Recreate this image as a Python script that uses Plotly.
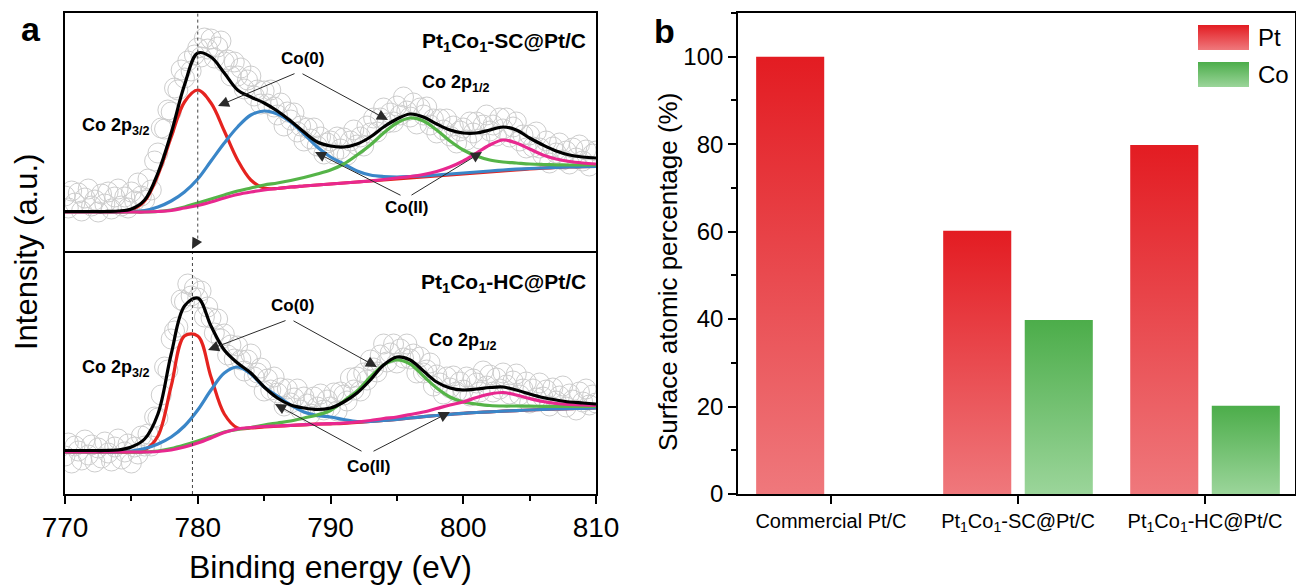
import plotly.graph_objects as go

# ---------------- data : panel a (Co 2p XPS) ----------------
energy_ev = list(range(770, 811))                        # fitted-curve grid (eV)
energy_raw_ev = [770 + 0.25 * k for k in range(161)]      # measured grid (eV)

# Pt1Co1-SC@Pt/C (top)
raw_sc = [57, 45, 62, 50, 60, 42, 55, 64, 47, 53,
          41, 59, 49, 61, 44, 56, 64, 47, 56, 45,
          61, 52, 70, 57, 53, 74, 63, 92, 100, 125,
          124, 143, 141, 165, 163, 183, 175, 192, 182, 198,
          205, 196, 215, 204, 214, 195, 206, 212, 191, 193,
          177, 191, 177, 185, 164, 173, 177, 157, 163, 149,
          162, 149, 163, 146, 138, 150, 127, 141, 133, 140,
          121, 127, 112, 125, 114, 125, 107, 116, 99, 110,
          112, 99, 116, 104, 115, 98, 112, 123, 108, 116,
          107, 127, 120, 135, 121, 135, 145, 130, 140, 131,
          147, 138, 156, 142, 136, 150, 129, 145, 138, 146,
          128, 134, 120, 134, 123, 134, 117, 127, 110, 122,
          125, 113, 131, 120, 131, 114, 128, 138, 122, 128,
          117, 135, 124, 135, 116, 126, 131, 112, 118, 105,
          118, 106, 121, 105, 98, 112, 90, 106, 100, 110,
          93, 102, 89, 105, 95, 108, 92, 103, 87, 99, 102]
fit_sc = [41.5, 41.5, 41.5, 41.5, 42, 44, 53, 80, 120, 168,
          200, 196, 180, 163, 156, 150, 142, 132, 121, 111,
          107, 106, 109, 116, 126, 134, 139, 136, 129, 123,
          120, 120, 123, 126, 123, 115, 108, 102, 98, 96, 95]
co0_p32_sc = [41, 41, 41, 41, 41, 43, 52, 78, 116, 151,
              163, 150, 122, 93, 73, 65, 64.5, 66, 67, 68,
              69, 70, 71, 72, 73, 74, 75, 76, 77, 78,
              79, 80, 81, 82, 83, 84, 84.8, 85.5, 86, 86.3, 86.5]
co2_p32_sc = [41, 41, 41, 41, 41, 41.5, 42.5, 46, 52, 61,
              74, 92, 110, 126, 138, 142, 139, 131, 119, 106,
              96, 89, 82, 78, 76.5, 76, 76.5, 77.2, 78, 79,
              80, 81, 82, 83, 83.8, 84.5, 85, 85.6, 86, 86.3, 86.5]
co0_p12_sc = [41, 41, 41, 41, 41, 41, 41, 41.5, 43, 46,
              50, 54, 58, 62, 65, 68, 70, 72.5, 75.5, 79,
              83, 89, 98, 108, 120, 130, 135, 132, 123, 112,
              103, 97, 93, 91, 90, 89, 88.5, 88.2, 88, 88, 88]
co2_p12_sc = [41, 41, 41, 41, 41, 41, 41, 41.5, 42.5, 45,
              47.5, 51, 55, 58.5, 61, 63, 64.5, 66, 67, 68,
              69, 70, 71, 72, 73.5, 75, 76.5, 78.5, 81.5, 86,
              92, 100, 108, 113, 110, 104, 98, 94, 91.5, 90, 89]

# Pt1Co1-HC@Pt/C (bottom)
raw_hc = [38, 51, 31, 48, 43, 34, 54, 39, 49, 32,
          46, 36, 52, 41, 33, 47, 55, 35, 42, 50,
          31, 47, 40, 58, 48, 60, 48, 77, 76, 99,
          127, 124, 155, 163, 167, 194, 192, 210, 198, 206,
          196, 203, 177, 187, 176, 161, 175, 155, 160, 139,
          149, 135, 148, 134, 123, 134, 140, 117, 121, 126,
          103, 115, 104, 117, 101, 106, 88, 105, 91, 96,
          105, 84, 97, 90, 80, 97, 87, 100, 84, 94,
          87, 101, 83, 102, 99, 93, 116, 104, 117, 103,
          121, 114, 134, 126, 122, 139, 150, 132, 141, 150,
          131, 145, 136, 150, 135, 140, 121, 137, 121, 124,
          131, 108, 119, 111, 100, 117, 106, 118, 102, 112,
          104, 117, 98, 115, 111, 102, 123, 108, 119, 102,
          116, 105, 121, 109, 100, 113, 120, 99, 105, 112,
          91, 105, 96, 111, 97, 104, 88, 106, 93, 98,
          108, 87, 100, 94, 84, 102, 92, 105, 89, 99, 91]
fit_hc = [43.5, 43.5, 43.5, 43.5, 44, 47, 55, 80, 140, 188,
          196, 168, 144, 131, 121, 107, 96, 89, 86, 84.5,
          86, 92, 101, 114, 129, 137, 134, 123, 112, 106,
          104, 105, 106.5, 107, 104, 100, 96.5, 94, 92, 91, 90]
co0_p32_hc = [42, 42, 42, 42, 42, 42, 44, 58, 108, 158,
              158, 117, 80, 66, 66, 67, 67.8, 68.5, 69.2, 69.8,
              70.2, 70.7, 71.5, 72.5, 73.5, 74.7, 76, 77.3, 78.5, 79.7,
              80.7, 81.5, 82.2, 82.8, 83.4, 84, 84.5, 85, 85.4, 85.7, 86]
co2_p32_hc = [42, 42, 42, 42, 42, 43, 45.5, 50, 57, 68,
              84, 104, 121, 127, 120, 107, 98, 89, 82, 78.5,
              77, 74.5, 72.5, 72.5, 73.5, 74.7, 76, 77.3, 78.5, 79.7,
              80.7, 81.5, 82.2, 82.8, 83.4, 84, 84.5, 85, 85.4, 85.7, 86]
co0_p12_hc = [42, 42, 42, 42, 42, 42, 42, 43, 45.5, 49,
              53, 57.5, 62, 64.5, 66.5, 69, 71, 73, 76, 79,
              83.5, 93, 103, 117, 129, 134, 130, 118, 106, 97,
              92, 90, 88.5, 88, 88, 87.8, 87.7, 87.7, 87.7, 87.7, 87.7]
co2_p12_hc = [42, 42, 42, 42, 42, 42, 42, 42.5, 44, 47,
              51, 56, 61.5, 65, 66.5, 67.5, 68, 68.7, 69.3, 70,
              70.3, 71, 72, 73.5, 75.5, 77, 79.5, 82, 85.5, 89,
              92, 96.5, 100, 101.5, 99, 95.5, 92.5, 90.5, 89.5, 89, 88.7]

peak_ref_ev = {"SC": 780.0, "HC": 779.6}   # dotted guide lines

# ---------------- data : panel b (surface composition) ----------------
categories = ["Commercial Pt/C",
              "Pt<sub>1</sub>Co<sub>1</sub>-SC@Pt/C",
              "Pt<sub>1</sub>Co<sub>1</sub>-HC@Pt/C"]
pt_percent = [100.0, 60.2, 79.8]
co_percent = [0.0, 39.8, 20.2]
pct_ticks = [0, 20, 40, 60, 80, 100]

# ---------------- styling ----------------
W, H = 1296, 588
def PX(x):
    return x / W
def PY(y):
    return 1 - y / H

SANS = "Liberation Sans, Arial, sans-serif"
RED, BLUE, GREEN, MAGENTA = "#e5231f", "#3a86c8", "#55b448", "#e8288f"
BAR_W, PT_OFF, CO_OFF = 0.364, -0.40, 0.036

fig = go.Figure()

def add_panel(raw, fit, comps, xa, ya):
    fig.add_trace(go.Scatter(x=energy_raw_ev, y=raw, mode="markers", xaxis=xa, yaxis=ya,
                             marker=dict(symbol="circle-open", size=20, color="#cdcdcd",
                                         line=dict(width=1, color="#cdcdcd")),
                             showlegend=False, hoverinfo="skip"))
    for ys, col in comps:
        fig.add_trace(go.Scatter(x=energy_ev, y=ys, mode="lines", xaxis=xa, yaxis=ya,
                                 line=dict(color=col, width=3.2, shape="spline", smoothing=1.0),
                                 showlegend=False))
    fig.add_trace(go.Scatter(x=energy_ev, y=fit, mode="lines", xaxis=xa, yaxis=ya,
                             line=dict(color="black", width=3.2, shape="spline", smoothing=1.0),
                             showlegend=False))

add_panel(raw_sc, fit_sc, [(co0_p32_sc, RED), (co2_p32_sc, BLUE), (co0_p12_sc, GREEN), (co2_p12_sc, MAGENTA)], "x2", "y2")
add_panel(raw_hc, fit_hc, [(co0_p32_hc, RED), (co2_p32_hc, BLUE), (co0_p12_hc, GREEN), (co2_p12_hc, MAGENTA)], "x", "y")

# gradient bars (one filled trace per bar so each has its own gradient)
PT_SCALE = [[0, "#ef787c"], [1, "#e31c22"]]
CO_SCALE = [[0, "#9bd59a"], [1, "#4cad4a"]]
for series, off, scale in [(pt_percent, PT_OFF, PT_SCALE), (co_percent, CO_OFF, CO_SCALE)]:
    for i, v in enumerate(series):
        if v <= 0:
            continue
        x0, x1 = i + off, i + off + BAR_W
        fig.add_trace(go.Scatter(x=[x0, x1, x1, x0, x0], y=[0, 0, v, v, 0], mode="lines",
                                 fill="toself", xaxis="x3", yaxis="y3",
                                 line=dict(width=0, color="rgba(0,0,0,0)"),
                                 fillgradient=dict(type="vertical", colorscale=scale),
                                 showlegend=False, hoverinfo="skip"))

# legend swatches (own tiny axes)
for ax_id, scale in [("4", PT_SCALE), ("5", CO_SCALE)]:
    fig.add_trace(go.Scatter(x=[0, 1, 1, 0, 0], y=[0, 0, 1, 1, 0], mode="lines", fill="toself",
                             xaxis="x" + ax_id, yaxis="y" + ax_id,
                             line=dict(width=0, color="rgba(0,0,0,0)"),
                             fillgradient=dict(type="vertical", colorscale=scale),
                             showlegend=False, hoverinfo="skip"))

box = dict(showline=True, linecolor="black", linewidth=1.6, showgrid=False, zeroline=False)
left_dom = [PX(65), PX(596)]
fig.update_layout(
    width=W, height=H, margin=dict(l=0, r=0, t=0, b=0),
    paper_bgcolor="white", plot_bgcolor="white", showlegend=False,
    xaxis=dict(domain=left_dom, anchor="y", range=[770, 810], tick0=770, dtick=10, mirror=True,
               ticks="outside", ticklen=8, tickwidth=1.5, tickcolor="black",
               minor=dict(dtick=5, ticks="outside", ticklen=5, tickwidth=1.5, tickcolor="black"),
               tickfont=dict(family=SANS, size=28, color="black"), automargin=False, **box),
    xaxis2=dict(domain=left_dom, anchor="y2", side="top", range=[770, 810], showticklabels=False,
                ticks="", mirror=False, automargin=False, **box),
    yaxis=dict(domain=[PY(494), PY(253)], anchor="x", range=[0, 241], showticklabels=False,
               ticks="", mirror=True, automargin=False, **box),
    yaxis2=dict(domain=[PY(253), PY(13)], anchor="x2", range=[0, 240], showticklabels=False,
                ticks="", mirror=True, automargin=False, **box),
    xaxis3=dict(domain=[PX(738), PX(1295)], anchor="y3", range=[-0.497, 2.481], mirror=True,
                tickvals=[0, 1, 2], ticktext=categories, ticks="outside", ticklen=8,
                tickwidth=1.5, tickcolor="black",
                tickfont=dict(family=SANS, size=20, color="black"), automargin=False, **box),
    yaxis3=dict(domain=[PY(494), PY(13)], anchor="x3", range=[0, 110], tickvals=pct_ticks,
                mirror=True, ticks="outside", ticklen=8, tickwidth=1.5, tickcolor="black",
                minor=dict(dtick=10, ticks="outside", ticklen=5, tickwidth=1.5, tickcolor="black"),
                tickfont=dict(family=SANS, size=24, color="black"), automargin=False, **box),
    xaxis4=dict(domain=[PX(1198), PX(1249)], anchor="y4", range=[0, 1], visible=False),
    yaxis4=dict(domain=[PY(50), PY(25)], anchor="x4", range=[0, 1], visible=False),
    xaxis5=dict(domain=[PX(1198), PX(1249)], anchor="y5", range=[0, 1], visible=False),
    yaxis5=dict(domain=[PY(87), PY(62)], anchor="x5", range=[0, 1], visible=False),
)

# dotted guide lines
fig.add_shape(type="line", xref="x2", yref="y2 domain", x0=peak_ref_ev["SC"], x1=peak_ref_ev["SC"],
              y0=0.06, y1=1, line=dict(color="#444", width=1, dash="dot"))
fig.add_shape(type="line", xref="x", yref="y domain", x0=peak_ref_ev["HC"], x1=peak_ref_ev["HC"],
              y0=0, y1=1, line=dict(color="#444", width=1, dash="dot"))

ann = []
def text(x, y, s, size=18, xanchor="center", bold=True, angle=0):
    ann.append(dict(x=PX(x), y=PY(y), xref="paper", yref="paper", text=f"<b>{s}</b>" if bold else s,
                    showarrow=False, xanchor=xanchor, yanchor="middle", textangle=angle,
                    font=dict(family=SANS, size=size, color="black")))
def arrow(tail, head):
    ann.append(dict(x=PX(head[0]), y=PY(head[1]), xref="paper", yref="paper",
                    ax=tail[0] - head[0], ay=tail[1] - head[1], axref="pixel", ayref="pixel",
                    text="", showarrow=True, arrowhead=2, arrowsize=2.2, arrowwidth=1,
                    arrowcolor="#2a2a2a", standoff=0))

# panel a labels
text(31, 29, "a", size=34)
text(664, 31, "b", size=34)
text(26, 252, "Intensity (a.u.)", size=31, bold=False, angle=-90)
text(330, 567, "Binding energy (eV)", size=32, bold=False)
# top panel
text(588, 42, "Pt<sub>1</sub>Co<sub>1</sub>-SC@Pt/C", size=21, xanchor="right")
text(80, 127, "Co 2p<sub>3/2</sub>", size=18, xanchor="left")
text(420, 83, "Co 2p<sub>1/2</sub>", size=18, xanchor="left")
text(302, 58, "Co(0)", size=17)
text(406, 208, "Co(II)", size=17)
arrow((296, 73), (218, 106))
arrow((301, 73), (388, 120))
arrow((402, 196), (315, 152))
arrow((410, 196), (482, 152))
arrow((198, 238), (192, 249))
# bottom panel
text(588, 283, "Pt<sub>1</sub>Co<sub>1</sub>-HC@Pt/C", size=21, xanchor="right")
text(80, 368, "Co 2p<sub>3/2</sub>", size=18, xanchor="left")
text(427, 341, "Co 2p<sub>1/2</sub>", size=18, xanchor="left")
text(292, 305, "Co(0)", size=17)
text(368, 466, "Co(II)", size=17)
arrow((287, 320), (208, 350))
arrow((292, 320), (377, 367))
arrow((363, 452), (275, 404))
arrow((372, 452), (450, 412))
# panel b
text(668, 272, "Surface atomic percentage (%)", size=26, bold=False, angle=-90)
text(1256, 38, "Pt", size=24, bold=False, xanchor="left")
text(1256, 74, "Co", size=24, bold=False, xanchor="left")

fig.update_layout(annotations=ann)
fig.write_html("out.html")
